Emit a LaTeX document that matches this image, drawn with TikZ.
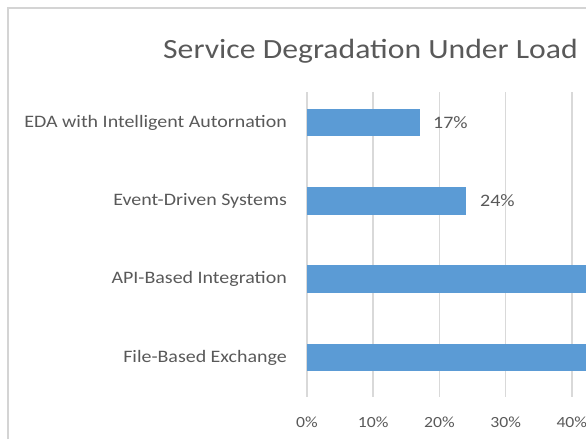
\documentclass[tikz,border=0pt]{standalone}
\usepackage{fontspec}
\setmainfont{Carlito}[FakeStretch=1.14]
\usetikzlibrary{positioning}
\definecolor{barblue}{HTML}{5B9BD5}
\definecolor{gridgray}{HTML}{D9D9D9}
\definecolor{txtgray}{HTML}{595959}
\definecolor{framegray}{HTML}{D4D4D4}

\begin{document}
\begin{tikzpicture}[x=1pt, y=-1pt,
    catlabel/.style={anchor=east, inner sep=0pt, text=txtgray, font=\fontsize{17.5}{20}\selectfont},
    vallabel/.style={anchor=west, inner sep=0pt, text=txtgray, font=\fontsize{17.5}{20}\selectfont},
    ticklabel/.style={inner sep=0pt, text=txtgray, font=\fontsize{15.5}{18}\selectfont},
    gridline/.style={draw=gridgray, line width=1.6pt},
    barfill/.style={fill=barblue}]
  \clip (0,0) rectangle (586,439);
  \draw[framegray, line width=1.5pt] (8,439) -- (8,8) -- (586,8);
  \node[anchor=base west, inner sep=0pt, text=txtgray, font=\fontsize{27.8}{32}\selectfont] (title) at (163,58) {Service Degradation Under Load};
  % grid and axis
  \foreach \p [count=\i from 0] in {0,10,20,30,40} {
    \draw[gridline] (307+66.2*\i,92) -- (307+66.2*\i,397);
    \node[ticklabel] (tick\i) at (307+66.2*\i,422) {\p\%};
  }
  % bars
  \foreach \nm/\lab/\v/\yc in {eda/EDA with Intelligent Autornation/17/122.5,
      evt/Event-Driven Systems/24/201, api/API-Based Integration/45/279,
      file/File-Based Exchange/48/357.5} {
    \fill[barfill] (307,\yc-13.75) rectangle (307+6.62*\v,\yc+13.75);
    \node[catlabel] (cat-\nm) at (287,\yc) {\lab};
  }
  \node[vallabel] (val-eda) at (433,122.5) {17\%};
  \node[vallabel] (val-evt) at (480,201) {24\%};
\end{tikzpicture}
\end{document}
